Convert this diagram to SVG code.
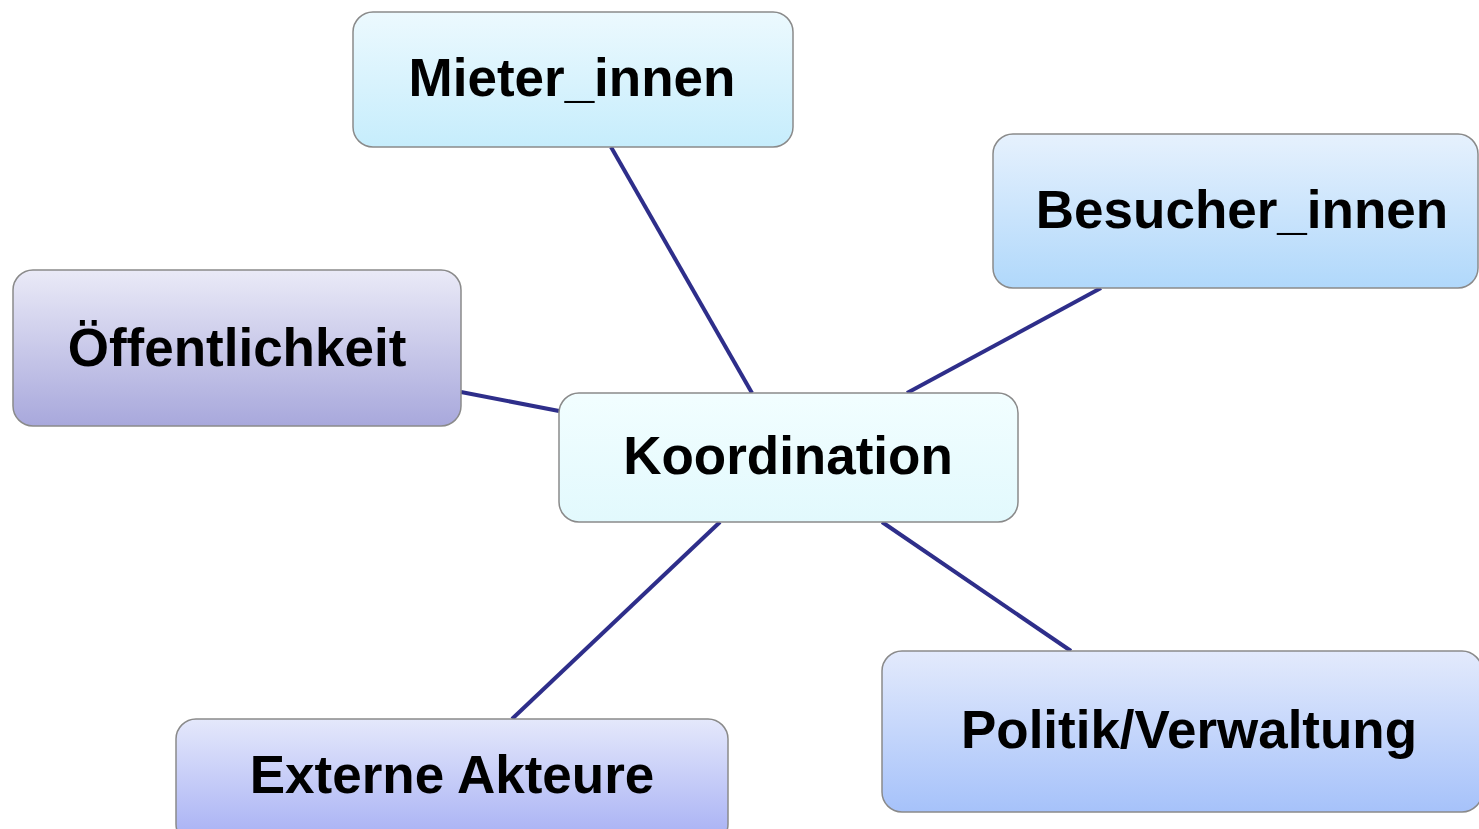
<svg xmlns="http://www.w3.org/2000/svg" width="1479" height="829" viewBox="0 0 1479 829">
<style>
.box{stroke:#8a8a8a;stroke-width:1.5}
.lbl{font-family:"Liberation Sans",Arial,sans-serif;font-weight:bold;font-size:53px;fill:#000;text-anchor:middle}
.con{stroke:#2e2e8a;stroke-width:4;fill:none}
</style>
<defs>
<linearGradient id="gM" x1="0" y1="0" x2="0" y2="1"><stop offset="0" stop-color="#ecf9fe"/><stop offset="1" stop-color="#c6edfc"/></linearGradient>
<linearGradient id="gB" x1="0" y1="0" x2="0" y2="1"><stop offset="0" stop-color="#e6f1fd"/><stop offset="1" stop-color="#b0d8fb"/></linearGradient>
<linearGradient id="gO" x1="0" y1="0" x2="0" y2="1"><stop offset="0" stop-color="#eaeaf7"/><stop offset="1" stop-color="#a8a8dc"/></linearGradient>
<linearGradient id="gK" x1="0" y1="0" x2="0" y2="1"><stop offset="0" stop-color="#f2feff"/><stop offset="1" stop-color="#e2f9fd"/></linearGradient>
<linearGradient id="gE" x1="0" y1="0" x2="0" y2="1"><stop offset="0" stop-color="#e4e8fb"/><stop offset="1" stop-color="#a6aff4"/></linearGradient>
<linearGradient id="gP" x1="0" y1="0" x2="0" y2="1"><stop offset="0" stop-color="#e3eafc"/><stop offset="1" stop-color="#a6c2fa"/></linearGradient>
</defs>
<g id="connectors">
<line class="con" x1="611" y1="147" x2="752" y2="393"/>
<line class="con" x1="1101" y1="288" x2="907" y2="393"/>
<line class="con" x1="461" y1="392" x2="559" y2="411"/>
<line class="con" x1="720" y1="522" x2="512" y2="719"/>
<line class="con" x1="882" y1="522" x2="1071" y2="651"/>
</g>
<g id="mieter">
<rect class="box" x="353" y="12" width="440" height="135" rx="20" fill="url(#gM)"/>
<text class="lbl" x="572" y="96">Mieter_innen</text>
</g>
<g id="besucher">
<rect class="box" x="993" y="134" width="485" height="154" rx="20" fill="url(#gB)"/>
<text class="lbl" x="1242" y="228">Besucher_innen</text>
</g>
<g id="oeffentlichkeit">
<rect class="box" x="13" y="270" width="448" height="156" rx="20" fill="url(#gO)"/>
<text class="lbl" x="237" y="366">Öffentlichkeit</text>
</g>
<g id="koordination">
<rect class="box" x="559" y="393" width="459" height="129" rx="20" fill="url(#gK)"/>
<text class="lbl" x="788" y="474">Koordination</text>
</g>
<g id="externe">
<rect class="box" x="176" y="719" width="552" height="125" rx="20" fill="url(#gE)"/>
<text class="lbl" x="452" y="793">Externe Akteure</text>
</g>
<g id="politik">
<rect class="box" x="882" y="651" width="600" height="161" rx="20" fill="url(#gP)"/>
<text class="lbl" x="1189" y="748" textLength="456" lengthAdjust="spacingAndGlyphs">Politik/Verwaltung</text>
</g>
</svg>
